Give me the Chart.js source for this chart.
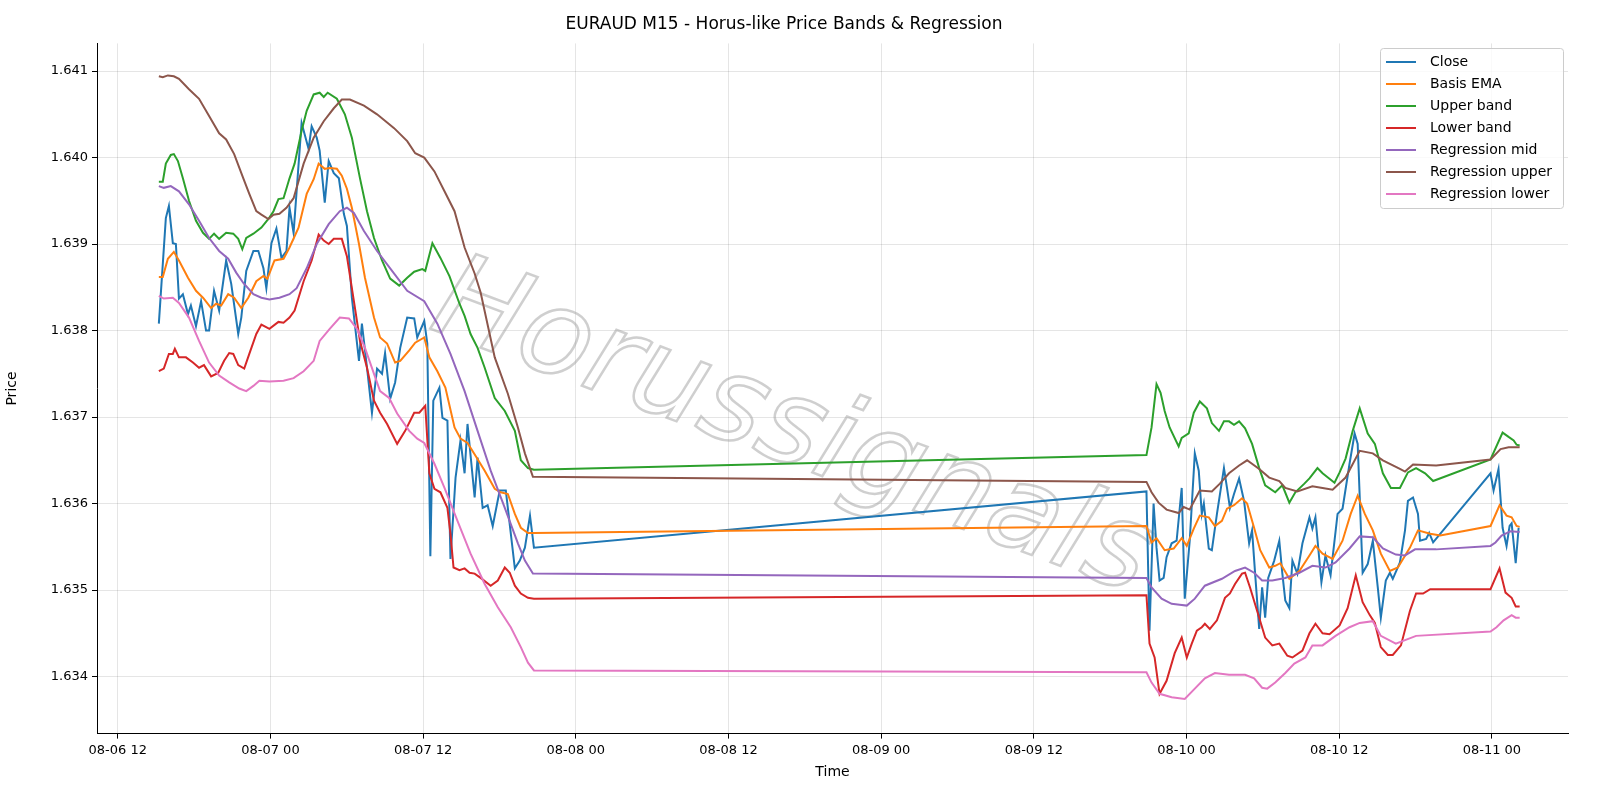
<!DOCTYPE html>
<html>
<head>
<meta charset="utf-8">
<script src="https://cdn.jsdelivr.net/npm/chart.js@4"></script>
<style>
  html, body { margin: 0; padding: 0; background: #fff; }
  #wrap { width: 1600px; height: 800px; }
</style>
</head>
<body>
<div id="wrap"><canvas id="bandsChart" width="1600" height="800"></canvas></div>
<script>
// hours counted from 2025-08-06 00:00, price values
const xTicks = [12, 24, 36, 48, 60, 72, 84, 96, 108, 120];
const yTicks = [1.634, 1.635, 1.636, 1.637, 1.638, 1.639, 1.640, 1.641];

const closePts = [
  [15.23,1.63808],[15.78,1.63930],[16.02,1.63944],[16.33,1.63901],[16.57,1.63900],[16.81,1.63837],[17.12,1.63842],
  [17.52,1.63819],[17.75,1.63829],[18.15,1.63805],[18.55,1.63834],[18.94,1.63800],[19.18,1.63800],[19.57,1.63846],
  [19.97,1.63823],[20.52,1.63881],[20.92,1.63854],[21.47,1.63796],[21.71,1.63815],[22.1,1.63869],[22.66,1.63892],
  [23.05,1.63892],[23.45,1.63872],[23.68,1.63849],[24.08,1.63901],[24.47,1.63918],[24.87,1.63884],[25.26,1.63892],
  [25.5,1.63942],[25.82,1.63913],[26.45,1.64040],[27.0,1.64010],[27.24,1.64036],[27.64,1.64023],[27.87,1.64008],
  [28.27,1.63948],[28.58,1.63996],[28.98,1.63982],[29.38,1.63976],[29.77,1.63935],[30.01,1.63921],[30.4,1.63838],
  [30.96,1.63765],[31.19,1.63808],[31.59,1.63757],[31.98,1.63705],[32.38,1.63756],[32.77,1.63750],[33.01,1.63774],
  [33.41,1.63721],[33.8,1.63740],[34.2,1.63780],[34.75,1.63815],[35.3,1.63814],[35.54,1.63792],[36.09,1.63811],
  [36.33,1.63785],[36.57,1.63539],[36.8,1.63719],[37.28,1.63734],[37.52,1.63699],[37.91,1.63696],[38.15,1.63536],
  [38.55,1.63630],[38.94,1.63673],[39.26,1.63635],[39.49,1.63692],[40.05,1.63607],[40.28,1.63653],[40.68,1.63595],
  [41.07,1.63598],[41.47,1.63574],[42.02,1.63615],[42.5,1.63615],[43.21,1.63525],[43.6,1.63534],[44.0,1.63549],
  [44.4,1.63586],[44.71,1.63549],
  [92.85,1.63614],[93.09,1.63453],[93.41,1.63600],[93.64,1.63549],[93.88,1.63511],[94.2,1.63514],[94.43,1.63538],
  [94.83,1.63554],[95.22,1.63557],[95.62,1.63618],[95.86,1.63490],[96.25,1.63557],[96.65,1.63658],[96.96,1.63638],
  [97.2,1.63588],[97.36,1.63600],[97.75,1.63548],[97.99,1.63546],[98.39,1.63588],[98.94,1.63641],[99.18,1.63618],
  [99.41,1.63595],[99.73,1.63611],[100.13,1.63629],[100.52,1.63603],[100.92,1.63554],[101.15,1.63569],[101.39,1.63519],
  [101.71,1.63455],[101.94,1.63503],[102.18,1.63468],[102.42,1.63514],[102.89,1.63534],[103.29,1.63557],[103.53,1.63519],
  [103.76,1.63488],[104.08,1.63479],[104.32,1.63534],[104.71,1.63519],[105.11,1.63554],[105.66,1.63584],[105.89,1.63571],
  [106.13,1.63584],[106.6,1.63509],[106.92,1.63540],[107.32,1.63517],[107.87,1.63588],[108.26,1.63594],[108.81,1.63646],
  [109.21,1.63681],[109.45,1.63669],[109.84,1.63520],[110.24,1.63530],[110.64,1.63557],[111.03,1.63503],[111.27,1.63468],
  [111.66,1.63511],[111.98,1.63520],[112.21,1.63513],[112.77,1.63532],[113.17,1.63569],[113.4,1.63603],[113.8,1.63607],
  [114.19,1.63588],[114.35,1.63557],[114.83,1.63559],[115.07,1.63566],[115.38,1.63555],
  [119.89,1.63635],[120.13,1.63615],[120.52,1.63640],[120.84,1.63572],[121.15,1.63551],[121.39,1.63574],[121.55,1.63577],
  [121.87,1.63531],[122.1,1.63572]
];

const basisPts = [
  [15.23,1.63862],[15.54,1.63862],[15.94,1.63883],[16.41,1.63891],[16.81,1.63881],[17.52,1.63861],[18.15,1.63846],
  [18.7,1.63838],[19.34,1.63826],[19.73,1.63831],[20.13,1.63829],[20.68,1.63842],[21.15,1.63838],[21.71,1.63826],
  [22.26,1.63838],[22.89,1.63857],[23.45,1.63863],[23.76,1.63860],[24.32,1.63881],[25.03,1.63883],[25.5,1.63896],
  [26.21,1.63919],[26.85,1.63958],[27.4,1.63975],[27.79,1.63993],[28.27,1.63987],[28.66,1.63988],[29.22,1.63987],
  [29.61,1.63979],[30.01,1.63964],[30.4,1.63942],[30.96,1.63900],[31.43,1.63861],[32.14,1.63815],[32.62,1.63792],
  [33.17,1.63785],[33.8,1.63763],[34.2,1.63765],[34.91,1.63777],[35.38,1.63786],[36.09,1.63792],[36.49,1.63769],
  [37.12,1.63753],[37.75,1.63734],[38.47,1.63688],[38.94,1.63675],[39.49,1.63670],[40.13,1.63655],[40.84,1.63638],
  [41.63,1.63617],[42.1,1.63613],[42.66,1.63611],[43.21,1.63588],[43.68,1.63572],[44.24,1.63566],[44.71,1.63566],
  [92.85,1.63574],[93.25,1.63555],[93.64,1.63560],[94.28,1.63546],[94.99,1.63548],[95.62,1.63560],[96.02,1.63551],
  [96.57,1.63571],[97.04,1.63586],[97.75,1.63584],[98.23,1.63574],[98.78,1.63580],[99.18,1.63594],[99.73,1.63598],
  [100.36,1.63606],[100.76,1.63600],[101.31,1.63572],[101.79,1.63546],[102.5,1.63526],[102.97,1.63528],[103.37,1.63531],
  [104.08,1.63513],[104.87,1.63522],[105.66,1.63540],[106.13,1.63551],[106.69,1.63542],[107.48,1.63536],[108.26,1.63557],
  [108.9,1.63588],[109.45,1.63609],[110.01,1.63588],[110.64,1.63569],[111.27,1.63542],[111.98,1.63522],[112.61,1.63526],
  [113.56,1.63549],[114.19,1.63569],[115.15,1.63565],[115.94,1.63563],[119.89,1.63574],[120.6,1.63598],[121.15,1.63586],
  [121.55,1.63584],[121.94,1.63574],[122.18,1.63573]
];

const upperPts = [
  [15.23,1.63972],[15.54,1.63972],[15.78,1.63993],[16.17,1.64003],[16.41,1.64004],[16.73,1.63996],[17.12,1.63976],
  [17.6,1.63950],[18.15,1.63927],[18.7,1.63913],[19.18,1.63906],[19.57,1.63912],[19.97,1.63906],[20.52,1.63913],
  [21.08,1.63912],[21.47,1.63906],[21.79,1.63894],[22.1,1.63907],[22.66,1.63912],[23.29,1.63919],[23.84,1.63929],
  [24.24,1.63938],[24.63,1.63952],[25.03,1.63953],[25.5,1.63976],[25.9,1.63993],[26.45,1.64031],[26.85,1.64054],
  [27.4,1.64073],[27.87,1.64075],[28.19,1.64070],[28.5,1.64075],[29.22,1.64068],[29.85,1.64050],[30.4,1.64023],
  [31.04,1.63976],[31.59,1.63938],[32.14,1.63907],[32.77,1.63881],[33.41,1.63860],[34.12,1.63852],[34.75,1.63861],
  [35.3,1.63868],[35.94,1.63871],[36.17,1.63869],[36.73,1.63901],[37.36,1.63884],[38.07,1.63863],[38.86,1.63831],
  [39.26,1.63817],[39.73,1.63796],[40.28,1.63780],[40.84,1.63757],[41.63,1.63722],[42.42,1.63707],[43.21,1.63684],
  [43.68,1.63650],[44.24,1.63641],[44.71,1.63639],
  [92.85,1.63656],[93.25,1.63688],[93.64,1.63738],[93.96,1.63728],[94.28,1.63707],[94.67,1.63688],[95.38,1.63666],
  [95.62,1.63676],[96.17,1.63681],[96.57,1.63705],[97.04,1.63718],[97.6,1.63710],[97.99,1.63693],[98.55,1.63684],
  [98.94,1.63695],[99.34,1.63695],[99.73,1.63691],[100.13,1.63695],[100.6,1.63687],[101.15,1.63669],[101.71,1.63641],
  [102.18,1.63621],[102.97,1.63613],[103.53,1.63621],[104.08,1.63601],[104.55,1.63613],[105.26,1.63623],[105.66,1.63629],
  [106.29,1.63641],[106.69,1.63635],[107.63,1.63624],[108.03,1.63636],[108.5,1.63652],[109.06,1.63684],[109.61,1.63710],
  [110.24,1.63681],[110.8,1.63669],[111.43,1.63635],[112.06,1.63618],[112.77,1.63618],[113.4,1.63636],[114.04,1.63641],
  [114.75,1.63635],[115.38,1.63626],[119.89,1.63651],[120.84,1.63682],[121.31,1.63677],[121.71,1.63673],[121.94,1.63668],
  [122.18,1.63667]
];

const lowerPts = [
  [15.23,1.63753],[15.62,1.63756],[16.02,1.63773],[16.33,1.63773],[16.49,1.63779],[16.81,1.63769],[17.36,1.63769],
  [17.91,1.63763],[18.39,1.63757],[18.78,1.63760],[19.34,1.63747],[19.89,1.63751],[20.36,1.63765],[20.76,1.63774],
  [21.08,1.63773],[21.47,1.63760],[21.94,1.63756],[22.34,1.63773],[22.89,1.63796],[23.29,1.63807],[23.92,1.63802],
  [24.63,1.63810],[25.03,1.63809],[25.5,1.63815],[25.9,1.63823],[26.61,1.63857],[27.24,1.63881],[27.79,1.63911],
  [28.19,1.63904],[28.58,1.63900],[28.98,1.63906],[29.61,1.63906],[30.01,1.63886],[30.56,1.63834],[31.04,1.63788],
  [31.59,1.63757],[32.14,1.63719],[32.62,1.63705],[33.17,1.63692],[33.96,1.63669],[34.59,1.63684],[35.3,1.63705],
  [35.7,1.63705],[36.17,1.63713],[36.49,1.63635],[36.89,1.63617],[37.36,1.63613],[37.91,1.63595],[38.15,1.63565],
  [38.39,1.63526],[38.86,1.63523],[39.26,1.63525],[39.65,1.63520],[40.05,1.63519],[40.52,1.63514],[41.31,1.63505],
  [41.87,1.63511],[42.42,1.63526],[42.81,1.63520],[43.21,1.63505],[43.68,1.63496],[44.24,1.63491],[44.71,1.63490],
  [92.85,1.63494],[93.09,1.63438],[93.49,1.63422],[93.88,1.63380],[94.43,1.63395],[95.07,1.63427],[95.62,1.63445],
  [96.02,1.63422],[96.41,1.63438],[96.81,1.63453],[97.2,1.63457],[97.44,1.63461],[97.83,1.63455],[98.39,1.63465],
  [99.02,1.63491],[99.41,1.63496],[99.81,1.63507],[100.36,1.63519],[100.6,1.63520],[100.99,1.63503],[101.71,1.63468],
  [102.18,1.63445],[102.74,1.63436],[103.29,1.63438],[103.92,1.63424],[104.32,1.63422],[105.11,1.63430],[105.66,1.63450],
  [106.13,1.63461],[106.69,1.63450],[107.24,1.63449],[108.03,1.63459],[108.66,1.63479],[109.3,1.63517],[109.84,1.63486],
  [110.4,1.63471],[110.8,1.63462],[111.27,1.63434],[111.82,1.63425],[112.21,1.63425],[112.85,1.63436],[113.56,1.63476],
  [114.04,1.63496],[114.59,1.63496],[115.15,1.63501],[119.89,1.63501],[120.6,1.63525],[121.07,1.63497],[121.31,1.63494],
  [121.55,1.63491],[121.87,1.63481],[122.18,1.63481]
];

const regMidPts = [
  [15.23,1.63967],[15.62,1.63965],[16.17,1.63967],[16.81,1.63961],[17.6,1.63946],[18.39,1.63927],[19.18,1.63907],
  [19.97,1.63892],[20.68,1.63883],[21.31,1.63867],[21.87,1.63855],[22.66,1.63842],[23.29,1.63838],[23.92,1.63836],
  [24.71,1.63838],[25.5,1.63842],[26.06,1.63849],[26.85,1.63872],[27.64,1.63900],[28.58,1.63923],[29.45,1.63938],
  [30.01,1.63942],[30.56,1.63936],[31.35,1.63915],[32.38,1.63892],[33.41,1.63872],[34.75,1.63846],[36.09,1.63834],
  [37.12,1.63808],[38.15,1.63773],[39.26,1.63730],[40.28,1.63684],[41.31,1.63638],[42.42,1.63595],[43.45,1.63554],
  [44.0,1.63534],[44.63,1.63519],
  [92.85,1.63514],[93.25,1.63503],[94.04,1.63490],[94.83,1.63484],[95.46,1.63483],[96.02,1.63482],[96.65,1.63490],
  [97.44,1.63505],[98.78,1.63513],[99.81,1.63522],[100.6,1.63526],[101.31,1.63520],[101.94,1.63511],[102.74,1.63511],
  [103.76,1.63514],[104.87,1.63520],[105.89,1.63528],[106.92,1.63526],[107.71,1.63532],[108.81,1.63548],[109.61,1.63562],
  [110.64,1.63561],[111.43,1.63548],[112.45,1.63541],[113.17,1.63540],[113.96,1.63547],[115.62,1.63547],[119.89,1.63551],
  [120.28,1.63555],[120.76,1.63563],[121.47,1.63568],[122.18,1.63567]
];

const regUpperPts = [
  [15.23,1.64094],[15.54,1.64093],[15.94,1.64095],[16.41,1.64094],[16.81,1.64091],[17.6,1.64079],[18.39,1.64068],
  [19.18,1.64048],[19.97,1.64028],[20.52,1.64021],[21.15,1.64004],[21.87,1.63976],[22.34,1.63958],[22.89,1.63938],
  [23.29,1.63934],[23.84,1.63929],[24.24,1.63934],[24.71,1.63935],[25.26,1.63942],[25.82,1.63953],[26.61,1.63993],
  [27.4,1.64023],[28.19,1.64042],[28.98,1.64057],[29.61,1.64067],[30.25,1.64067],[31.35,1.64060],[32.38,1.64050],
  [33.72,1.64034],[34.75,1.64019],[35.38,1.64005],[36.09,1.64000],[36.89,1.63984],[37.68,1.63961],[38.47,1.63938],
  [39.26,1.63896],[40.05,1.63866],[40.52,1.63844],[41.63,1.63769],[42.66,1.63727],[43.45,1.63688],[44.0,1.63658],
  [44.63,1.63631],
  [92.85,1.63625],[93.25,1.63613],[93.8,1.63601],[94.43,1.63593],[95.38,1.63589],[95.78,1.63596],[96.25,1.63593],
  [97.04,1.63615],[97.99,1.63614],[98.62,1.63623],[99.34,1.63635],[100.13,1.63644],[100.76,1.63650],[101.71,1.63640],
  [102.5,1.63630],[103.29,1.63626],[103.76,1.63618],[104.71,1.63614],[105.89,1.63620],[106.69,1.63618],[107.48,1.63616],
  [108.5,1.63630],[109.61,1.63661],[110.64,1.63658],[111.43,1.63650],[112.77,1.63640],[113.17,1.63637],[113.8,1.63645],
  [115.62,1.63644],[119.89,1.63651],[120.68,1.63663],[121.31,1.63665],[122.18,1.63665]
];

const regLowerPts = [
  [15.23,1.63840],[15.62,1.63837],[16.33,1.63838],[16.81,1.63832],[17.6,1.63815],[18.39,1.63788],[19.18,1.63763],
  [19.97,1.63748],[20.76,1.63740],[21.55,1.63733],[22.1,1.63730],[22.66,1.63736],[23.13,1.63742],[23.92,1.63741],
  [25.03,1.63742],[25.82,1.63745],[26.61,1.63753],[27.4,1.63765],[27.87,1.63788],[28.66,1.63802],[29.45,1.63815],
  [30.17,1.63814],[30.8,1.63802],[31.43,1.63780],[32.14,1.63750],[32.62,1.63730],[33.33,1.63722],[33.96,1.63704],
  [34.91,1.63684],[35.54,1.63675],[36.09,1.63670],[36.89,1.63646],[37.68,1.63618],[38.7,1.63580],[39.73,1.63542],
  [40.84,1.63507],[41.87,1.63480],[42.89,1.63457],[43.68,1.63434],[44.24,1.63416],[44.71,1.63407],
  [92.85,1.63405],[93.25,1.63393],[93.88,1.63380],[94.83,1.63376],[95.86,1.63374],[96.65,1.63386],[97.44,1.63398],
  [98.23,1.63404],[99.34,1.63402],[100.6,1.63402],[101.31,1.63398],[101.94,1.63387],[102.34,1.63386],[102.97,1.63393],
  [103.76,1.63404],[104.47,1.63415],[105.34,1.63422],[105.89,1.63436],[106.69,1.63436],[107.71,1.63447],[108.81,1.63457],
  [109.61,1.63462],[110.64,1.63464],[111.27,1.63447],[112.45,1.63438],[114.04,1.63447],[119.89,1.63452],[120.36,1.63457],
  [120.92,1.63465],[121.55,1.63471],[121.87,1.63468],[122.18,1.63468]
];

const seriesNames = ['Close', 'Basis EMA', 'Upper band', 'Lower band', 'Regression mid', 'Regression upper', 'Regression lower'];
const seriesColors = ['#1f77b4', '#ff7f0e', '#2ca02c', '#d62728', '#9467bd', '#8c564b', '#e377c2'];
const seriesPts = [closePts, basisPts, upperPts, lowerPts, regMidPts, regUpperPts, regLowerPts];

const FONT = '"DejaVu Sans", sans-serif';

function tickLabel(v) {
  const day = 6 + Math.floor(v / 24);
  const hour = v % 24;
  return '08-' + String(day).padStart(2, '0') + ' ' + String(hour).padStart(2, '0');
}

// --- watermark behind the lines ---
const watermark = {
  id: 'watermark',
  beforeDatasetsDraw(chart) {
    const ctx = chart.ctx;
    ctx.save();
    ctx.translate(792, 432);
    ctx.rotate(0.36);
    ctx.font = 'italic 118px ' + FONT;
    ctx.textAlign = 'center';
    ctx.textBaseline = 'middle';
    ctx.lineWidth = 2.5;
    ctx.strokeStyle = 'rgba(160,160,160,0.5)';
    ctx.strokeText('Horussignals', 0, 0);
    ctx.restore();
  }
};

// --- matplotlib style legend box, top right ---
const boxLegend = {
  id: 'boxLegend',
  afterDraw(chart) {
    const ctx = chart.ctx;
    const x0 = 1380, y0 = 48, w = 183, h = 160;
    ctx.save();
    ctx.fillStyle = 'rgba(255,255,255,0.8)';
    ctx.strokeStyle = '#cccccc';
    ctx.lineWidth = 1;
    ctx.beginPath();
    ctx.roundRect(x0 + 0.5, y0 + 0.5, w, h, 3);
    ctx.fill();
    ctx.stroke();
    ctx.font = '14px ' + FONT;
    ctx.textBaseline = 'middle';
    seriesNames.forEach((name, i) => {
      const y = y0 + 14 + i * 22;
      ctx.strokeStyle = seriesColors[i];
      ctx.lineWidth = 2;
      ctx.beginPath();
      ctx.moveTo(x0 + 6, y);
      ctx.lineTo(x0 + 36, y);
      ctx.stroke();
      ctx.fillStyle = '#000';
      ctx.fillText(name, x0 + 50, y);
    });
    ctx.restore();
  }
};

const ctx = document.getElementById('bandsChart').getContext('2d');
new Chart(ctx, {
  type: 'line',
  data: {
    datasets: seriesPts.map((pts, i) => ({
      label: seriesNames[i],
      data: pts.map(p => ({ x: p[0], y: p[1] })),
      borderColor: seriesColors[i],
      backgroundColor: seriesColors[i],
      borderWidth: 2,
      pointRadius: 0,
      tension: 0,
      fill: false,
      order: seriesPts.length - i
    }))
  },
  options: {
    responsive: false,
    animation: false,
    devicePixelRatio: 1,
    layout: { padding: { left: 0, right: 32, top: 0, bottom: 19 } },
    plugins: {
      legend: { display: false },
      tooltip: { enabled: false },
      title: {
        display: true,
        text: 'EURAUD M15 - Horus-like Price Bands & Regression',
        color: '#000',
        font: { family: FONT, size: 17, weight: 'normal' },
        padding: { top: 14, bottom: 9 }
      }
    },
    scales: {
      x: {
        type: 'linear',
        min: 10.37,
        max: 125.98,
        afterBuildTicks: axis => { axis.ticks = xTicks.map(v => ({ value: v })); },
        ticks: {
          callback: v => tickLabel(v),
          color: '#000',
          font: { family: FONT, size: 13 },
          maxRotation: 0,
          padding: 4
        },
        grid: { color: 'rgba(0,0,0,0.1)', tickColor: '#000', tickLength: 5 },
        border: { color: '#000', width: 1 },
        title: { display: true, text: 'Time', color: '#000', font: { family: FONT, size: 14 }, padding: { top: 2, bottom: 0 } }
      },
      y: {
        min: 1.63334,
        max: 1.64132,
        afterBuildTicks: axis => { axis.ticks = yTicks.map(v => ({ value: v })); },
        afterFit: axis => { axis.width = 97; },
        ticks: {
          callback: v => v.toFixed(3),
          color: '#000',
          font: { family: FONT, size: 13 },
          padding: 4
        },
        grid: { color: 'rgba(0,0,0,0.1)', tickColor: '#000', tickLength: 5 },
        border: { color: '#000', width: 1 },
        title: { display: true, text: 'Price', color: '#000', font: { family: FONT, size: 14 } }
      }
    }
  },
  plugins: [watermark, boxLegend]
});
</script>
</body>
</html>
